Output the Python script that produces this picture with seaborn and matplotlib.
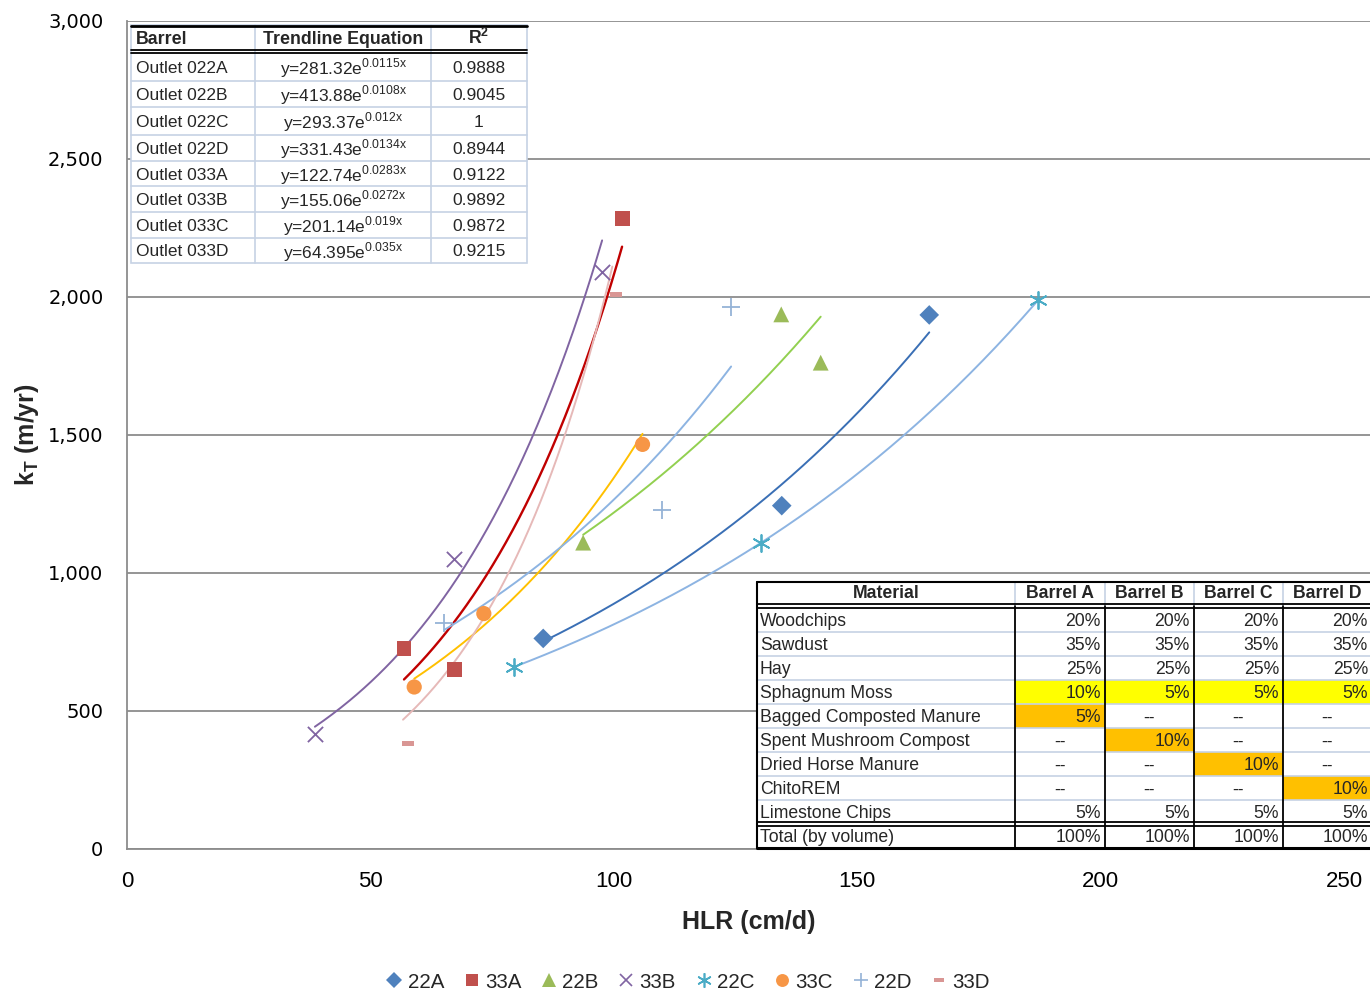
import numpy as np
import seaborn as sns
import matplotlib.pyplot as plt
from matplotlib import font_manager
from matplotlib.lines import Line2D
from matplotlib.patches import Rectangle

sns.set_theme(style="white")
plt.rcParams["font.family"] = ["Liberation Sans", "DejaVu Sans"]
plt.rcParams["mathtext.fontset"] = "custom"
plt.rcParams["mathtext.rm"] = "Liberation Sans"
plt.rcParams["mathtext.bf"] = "Liberation Sans:bold"

names = {f.name for f in font_manager.fontManager.ttflist}
if "Liberation Sans Narrow" in names:
    narrow, nf = "Liberation Sans Narrow", 1.0
else:
    narrow, nf = "Liberation Sans", 0.82

# points (HLR cm/d, kT m/yr)
series = ["22A", "33A", "22B", "33B", "22C", "33C", "22D", "33D"]
x_22A = [85.5, 134.5, 164.8]
y_22A = [763, 1244, 1935]
x_33A = [56.9, 67.2, 101.7]
y_33A = [728, 649, 2285]
x_22B = [93.7, 134.4, 142.5]
y_22B = [1110, 1937, 1762]
x_33B = [38.6, 67.2, 97.6]
y_33B = [416, 1051, 2092]
x_22C = [79.4, 130.2, 187.2]
y_22C = [659, 1108, 1989]
x_33C = [59.0, 73.3, 105.9]
y_33C = [587, 853, 1466]
x_22D = [65.2, 110.0, 124.1]
y_22D = [818, 1228, 1962]
x_33D = [57.7, 100.4]
y_33D = [383, 2008]
xs = [x_22A, x_33A, x_22B, x_33B, x_22C, x_33C, x_22D, x_33D]
ys = [y_22A, y_33A, y_22B, y_33B, y_22C, y_33C, y_22D, y_33D]

# exponential trendlines y = a*exp(b*x) as drawn, and their x spans
trend_a = [281.32, 122.74, 413.88, 155.06, 292.0, 201.14, 331.43, 64.395]
trend_b = [0.0115, 0.0283, 0.0108, 0.0272, 0.01025, 0.019, 0.0134, 0.035]
trend_lo = [85.5, 56.9, 93.7, 38.6, 79.4, 59.0, 65.2, 56.7]
trend_hi = [164.8, 101.7, 142.5, 97.6, 187.2, 105.9, 124.1, 99.7]

# equation table
t1_barrel = ["Outlet 022A", "Outlet 022B", "Outlet 022C", "Outlet 022D",
             "Outlet 033A", "Outlet 033B", "Outlet 033C", "Outlet 033D"]
t1_a = ["281.32", "413.88", "293.37", "331.43", "122.74", "155.06", "201.14", "64.395"]
t1_b = ["0.0115", "0.0108", "0.012", "0.0134", "0.0283", "0.0272", "0.019", "0.035"]
t1_r2 = ["0.9888", "0.9045", "1", "0.8944", "0.9122", "0.9892", "0.9872", "0.9215"]

# material table
materials = ["Woodchips", "Sawdust", "Hay", "Sphagnum Moss", "Bagged Composted Manure",
             "Spent Mushroom Compost", "Dried Horse Manure", "ChitoREM", "Limestone Chips",
             "Total (by volume)"]
barrel_cols = ["Barrel A", "Barrel B", "Barrel C", "Barrel D"]
barrel_A = ["20%", "35%", "25%", "10%", "5%", "--", "--", "--", "5%", "100%"]
barrel_B = ["20%", "35%", "25%", "5%", "--", "10%", "--", "--", "5%", "100%"]
barrel_C = ["20%", "35%", "25%", "5%", "--", "--", "10%", "--", "5%", "100%"]
barrel_D = ["20%", "35%", "25%", "5%", "--", "--", "--", "10%", "5%", "100%"]
yellow_cells = [(3, 0), (3, 1), (3, 2), (3, 3)]
orange_cells = [(4, 0), (5, 1), (6, 2), (7, 3)]

mk_color = ["#4F81BD", "#C0504D", "#9BBB59", "#8064A2", "#4BACC6", "#F79646", "#95B3D7", "#D99694"]
ln_color = ["#3A6FB5", "#C00000", "#92D050", "#8064A2", "#8DB4E2", "#FFC000", "#8DB4E2", "#E6B9B8"]
dash = [(-1, -0.45), (1, -0.45), (1, 0.45), (-1, 0.45), (-1, -0.45)]
markers = ["D", "s", "^", "x", (6, 2, 0), "o", "+", dash]
msizes = [100, 115, 130, 120, 150, 120, 150, 70]

fig = plt.figure(figsize=(13.7, 9.93), dpi=100)
W, H = 1370, 993
ax = fig.add_axes([127 / W, 1 - 849 / H, (W - 127) / W, (849 - 21) / H])

for i in range(len(series)):
    xx = np.linspace(trend_lo[i], trend_hi[i], 200)
    sns.lineplot(x=xx, y=trend_a[i] * np.exp(trend_b[i] * xx), color=ln_color[i],
                 lw=1.4 if i != 1 else 1.7, ax=ax, zorder=3)
for i in range(len(series)):
    kw = dict(edgecolor="none")
    if markers[i] in ("x", "+") or isinstance(markers[i], tuple):
        kw = dict(linewidth=1.3)
    sns.scatterplot(x=xs[i], y=ys[i], marker=markers[i], color=mk_color[i],
                    s=msizes[i], ax=ax, zorder=4, **kw)

ax.set_xlim(0, (W - 127) / 4.868)
ax.set_ylim(0, 3000)
ax.set_xticks([0, 50, 100, 150, 200, 250])
ax.set_yticks([0, 500, 1000, 1500, 2000, 2500, 3000])
ax.set_yticklabels([f"{v:,}" for v in [0, 500, 1000, 1500, 2000, 2500, 3000]],
                   family="DejaVu Sans", fontsize=14, color="black")
ax.set_xticklabels(["0", "50", "100", "150", "200", "250"], family=narrow,
                   fontsize=19 * nf if nf == 1.0 else 16, color="black")
ax.tick_params(axis="y", length=0, pad=17)
ax.tick_params(axis="x", length=0, pad=16)
ax.grid(axis="y", color="#8C8C8C", lw=1.3)
ax.set_axisbelow(True)
for side in ["top", "right"]:
    ax.spines[side].set_visible(False)
for side in ["left", "bottom"]:
    ax.spines[side].set_color("#8C8C8C")
    ax.spines[side].set_linewidth(1.3)
ax.set_xlabel("HLR (cm/d)", family=narrow, fontsize=22 * nf, fontweight="bold", labelpad=13)
ax.set_ylabel(r"k$_\mathbf{T}$ (m/yr)", family=narrow, fontsize=22 * nf, fontweight="bold",
              labelpad=5)

# overlay in pixel coordinates for the two tables
tab = fig.add_axes([0, 0, 1, 1], zorder=10)
tab.set_xlim(0, W)
tab.set_ylim(H, 0)
tab.axis("off")
tab.patch.set_alpha(0)
light = "#C6D2E4"

# equation table
c1 = [131, 255, 431, 527]
r1 = [53, 81, 107, 135, 161, 186, 212, 238, 263]
tab.add_patch(Rectangle((c1[0], 25), c1[-1] - c1[0], r1[-1] - 25, facecolor="white",
                        edgecolor=light, lw=1.2))
for x in c1[1:-1]:
    tab.plot([x, x], [25, r1[-1]], color=light, lw=1.2)
for y in r1[1:-1]:
    tab.plot([c1[0], c1[-1]], [y, y], color=light, lw=1.2)
tab.plot([c1[0], c1[-1]], [26, 26], color="black", lw=2)
tab.plot([c1[0], c1[-1]], [49.5, 49.5], color="black", lw=1.3)
tab.plot([c1[0], c1[-1]], [52.5, 52.5], color="black", lw=1.3)
hf = 12.8
tab.text(136, 39, "Barrel", fontsize=hf, fontweight="bold", va="center", ha="left")
tab.text(343, 39, "Trendline Equation", fontsize=hf, fontweight="bold", va="center", ha="center")
tab.text(479, 38, r"R$^\mathbf{2}$", fontsize=hf, fontweight="bold", va="center", ha="center")
for j in range(len(t1_barrel)):
    yc = (r1[j] + r1[j + 1]) / 2 + 1.5
    tab.text(136, yc, t1_barrel[j], fontsize=12.5, va="center", ha="left")
    tab.text(343, yc, "y=" + t1_a[j] + r"e$^{\mathrm{" + t1_b[j] + "x}}$", fontsize=12.5,
             va="center", ha="center")
    tab.text(479, yc, t1_r2[j], fontsize=12.5, va="center", ha="center")

# material table
c2 = [757, 1015, 1105, 1194, 1283, 1372]
r2 = [582, 606, 632, 656, 680, 704, 728, 752, 776, 800, 824, 848]
tab.add_patch(Rectangle((c2[0], r2[0]), c2[-1] - c2[0], r2[-1] - r2[0], facecolor="white",
                        edgecolor="none"))
for (ri, ci) in yellow_cells:
    tab.add_patch(Rectangle((c2[ci + 1], r2[ri + 1]), c2[ci + 2] - c2[ci + 1],
                            r2[ri + 2] - r2[ri + 1], facecolor="#FFFF00", edgecolor="none"))
for (ri, ci) in orange_cells:
    tab.add_patch(Rectangle((c2[ci + 1], r2[ri + 1]), c2[ci + 2] - c2[ci + 1],
                            r2[ri + 2] - r2[ri + 1], facecolor="#FFC000", edgecolor="none"))
for y in r2[2:-2]:
    tab.plot([c2[0], c2[-1]], [y, y], color=light, lw=1.2)
for x in c2[1:-1]:
    tab.plot([x, x], [r2[0], r2[1]], color=light, lw=1.2)
    tab.plot([x, x], [r2[1], r2[-1]], color="black", lw=1.3)
tab.plot([c2[0], c2[0]], [r2[0], r2[-1]], color="black", lw=1.5)
tab.plot([c2[0], c2[-1]], [r2[0], r2[0]], color="black", lw=1.5)
tab.plot([c2[0], c2[-1]], [604, 604], color="black", lw=1.3)
tab.plot([c2[0], c2[-1]], [607.5, 607.5], color="black", lw=1.3)
tab.plot([c2[0], c2[-1]], [822, 822], color="black", lw=1.3)
tab.plot([c2[0], c2[-1]], [825.5, 825.5], color="black", lw=1.3)
tab.plot([c2[0], c2[-1]], [848, 848], color="black", lw=2.2)
tf = 15.5 * nf
tab.text((c2[0] + c2[1]) / 2, 594, "Material", family=narrow, fontsize=tf, fontweight="bold",
         ha="center", va="center")
for k, name in enumerate(barrel_cols):
    tab.text((c2[k + 1] + c2[k + 2]) / 2, 594, name, family=narrow, fontsize=tf,
             fontweight="bold", ha="center", va="center")
cols = [barrel_A, barrel_B, barrel_C, barrel_D]
for j, m in enumerate(materials):
    yc = (r2[j + 1] + r2[j + 2]) / 2 + 2 if j < 9 else 837
    tab.text(760, yc, m, family=narrow, fontsize=tf, ha="left", va="center")
    for k in range(4):
        v = cols[k][j]
        if v == "--":
            tab.text((c2[k + 1] + c2[k + 2]) / 2, yc, v, family=narrow, fontsize=tf,
                     ha="center", va="center")
        else:
            tab.text(c2[k + 2] - 4, yc, v, family=narrow, fontsize=tf, ha="right", va="center")

# legend
handles = []
for i in range(len(series)):
    filled = markers[i] not in ("x", "+") and not isinstance(markers[i], tuple)
    handles.append(Line2D([], [], linestyle="none", marker=markers[i], color=mk_color[i],
                          markersize=np.sqrt(msizes[i]) * 0.85,
                          markeredgewidth=0 if filled else 1.2))
fig.legend(handles, series, loc="center", bbox_to_anchor=(687 / W, 1 - 982 / H), ncol=8,
           frameon=False, handletextpad=0.15, columnspacing=0.85, handlelength=1.0,
           prop={"family": narrow, "size": 18 * nf})

fig.savefig("out.png", dpi=100)
